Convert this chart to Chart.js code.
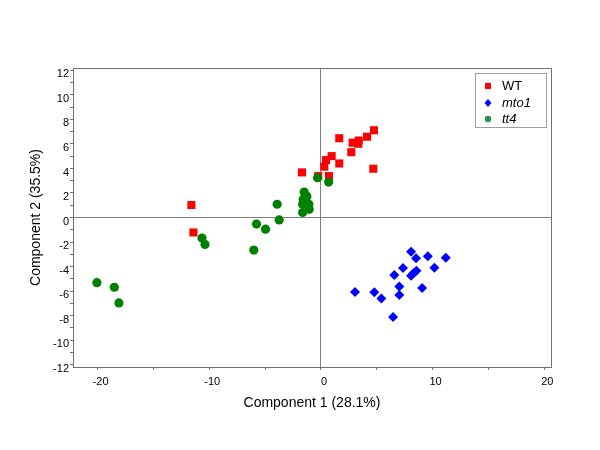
<!DOCTYPE html>
<html>
<head>
<meta charset="utf-8">
<script src="https://cdn.jsdelivr.net/npm/chart.js@4/dist/chart.umd.min.js"></script>
<style>
  html, body { margin: 0; padding: 0; background: #fff; }
  #wrap { width: 600px; height: 450px; position: relative; }
</style>
</head>
<body>
<div id="wrap"><canvas id="pca"></canvas></div>
<script>
// Scores (Component 1, Component 2)
const wtX = [4.75, 4.13, 3.38, 2.84, 3.35, 1.64, 2.72, 0.96, 0.45, 1.64, 0.30, 4.69, -1.70, -0.24, 0.72, -11.6, -11.42];
const wtY = [7.12, 6.59, 6.28, 6.10, 6.02, 6.47, 5.33, 5.01, 4.68, 4.41, 4.15, 3.98, 3.68, 3.38, 3.38, 1.02, -1.22];

const mto1X = [8.07, 8.52, 9.57, 11.18, 7.35, 10.16, 6.57, 8.55, 8.07, 8.28, 7.02, 9.06, 4.78, 7.02, 5.41, 6.46, 3.05];
const mto1Y = [-2.80, -3.33, -3.17, -3.28, -4.12, -4.10, -4.69, -4.34, -4.75, -4.55, -5.64, -5.75, -6.10, -6.32, -6.62, -8.11, -6.07];

const tt4X = [-0.30, 0.69, -1.50, -1.26, -1.59, -1.35, -1.64, -1.08, -1.05, -1.64, -3.92, -3.74, -5.77, -4.96, -6.01, -10.65, -10.38, -20.06, -18.50, -18.09];
const tt4Y = [3.25, 2.89, 2.08, 1.73, 1.49, 1.41, 1.08, 1.08, 0.67, 0.41, 1.08, -0.20, -0.54, -0.95, -2.66, -1.68, -2.20, -5.32, -5.69, -6.97];

const xTickValues = [-20, -15, -10, -5, 0, 5, 10, 15, 20];
const yTickValues = [-12, -11, -10, -9, -8, -7, -6, -5, -4, -3, -2, -1, 0, 1, 2, 3, 4, 5, 6, 7, 8, 9, 10, 11, 12];

const seriesNames = ['WT', 'mto1', 'tt4'];

function toPoints(xs, ys) {
    return xs.map((x, i) => ({ x: x, y: ys[i] }));
}

const FONT = "'Liberation Sans', Arial, sans-serif";

// cadre autour de la zone de tracé
const framePlugin = {
    id: 'frame',
    afterDatasetsDraw(chart) {
        const a = chart.chartArea;
        const ctx = chart.ctx;
        ctx.save();
        ctx.strokeStyle = '#707070';
        ctx.lineWidth = 1;
        ctx.strokeRect(Math.round(a.left) + 0.5, Math.round(a.top) + 0.5,
            Math.round(a.right - a.left), Math.round(a.bottom - a.top));
        ctx.restore();
    }
};

// légende encadrée, noms des mutants en italique
const legendPlugin = {
    id: 'boxLegend',
    afterDraw(chart) {
        const ctx = chart.ctx;
        ctx.save();
        ctx.strokeStyle = '#a0a0a0';
        ctx.lineWidth = 1;
        ctx.fillStyle = '#fff';
        ctx.fillRect(475.5, 73.5, 71, 54);
        ctx.strokeRect(475.5, 73.5, 71, 54);

        const rows = [86, 103, 119];
        const mx = 488;
        // WT
        ctx.fillStyle = '#ff0000';
        ctx.fillRect(mx - 3, rows[0] - 3, 6, 6);
        // mto1
        ctx.fillStyle = '#0000ff';
        ctx.beginPath();
        ctx.moveTo(mx, rows[1] - 4);
        ctx.lineTo(mx + 3.5, rows[1]);
        ctx.lineTo(mx, rows[1] + 4);
        ctx.lineTo(mx - 3.5, rows[1]);
        ctx.closePath();
        ctx.fill();
        // tt4
        ctx.fillStyle = '#2e8b57';
        ctx.beginPath();
        ctx.arc(mx, rows[2], 3.2, 0, Math.PI * 2);
        ctx.fill();

        ctx.fillStyle = '#000';
        ctx.textBaseline = 'middle';
        ctx.textAlign = 'left';
        ctx.font = '13px ' + FONT;
        ctx.fillText(seriesNames[0], 502, rows[0]);
        ctx.font = 'italic 13px ' + FONT;
        ctx.fillText(seriesNames[1], 502, rows[1]);
        ctx.fillText(seriesNames[2], 502, rows[2]);
        ctx.restore();
    }
};

const zeroGrid = ctx => (ctx.tick && ctx.tick.value === 0) ? '#808080' : 'rgba(0,0,0,0)';

new Chart(document.getElementById('pca'), {
    type: 'scatter',
    data: {
        datasets: [
            {
                label: seriesNames[0],
                data: toPoints(wtX, wtY),
                pointStyle: 'rect',
                pointRadius: 5.7,
                backgroundColor: '#ff0000',
                borderWidth: 0,
                order: 3
            },
            {
                label: seriesNames[1],
                data: toPoints(mto1X, mto1Y),
                pointStyle: 'rectRot',
                pointRadius: 5,
                backgroundColor: '#0000ff',
                borderWidth: 0,
                order: 2
            },
            {
                label: seriesNames[2],
                data: toPoints(tt4X, tt4Y),
                pointStyle: 'circle',
                pointRadius: 4.6,
                backgroundColor: '#008000',
                borderWidth: 0,
                order: 1
            }
        ]
    },
    options: {
        responsive: true,
        maintainAspectRatio: false,
        animation: false,
        events: [],
        layout: { padding: { top: 68, right: 49, bottom: 0, left: 0 } },
        plugins: {
            legend: { display: false },
            tooltip: { enabled: false }
        },
        scales: {
            x: {
                type: 'linear',
                min: -22.2,
                max: 20.6,
                afterBuildTicks: scale => { scale.ticks = xTickValues.map(v => ({ value: v })); },
                afterFit: scale => { scale.height = 83; },
                grid: { color: zeroGrid, tickColor: '#707070', tickLength: 3, lineWidth: 1 },
                border: { display: false },
                ticks: {
                    autoSkip: false,
                    maxRotation: 0,
                    padding: 5,
                    labelOffset: 3,
                    color: '#000',
                    font: { family: FONT, size: 11 },
                    callback: v => (v % 10 === 0 ? String(v) : '')
                },
                title: {
                    display: true,
                    text: 'Component 1 (28.1%)',
                    color: '#000',
                    font: { family: FONT, size: 14 },
                    padding: { top: 0, bottom: 38 }
                }
            },
            y: {
                type: 'linear',
                min: -12.2,
                max: 12.2,
                afterBuildTicks: scale => { scale.ticks = yTickValues.map(v => ({ value: v })); },
                afterFit: scale => { scale.width = 73; },
                grid: { color: zeroGrid, tickColor: '#707070', tickLength: 3, lineWidth: 1 },
                border: { display: false },
                ticks: {
                    autoSkip: false,
                    padding: 1,
                    labelOffset: 4,
                    color: '#000',
                    font: { family: FONT, size: 11 },
                    callback: v => (v % 2 === 0 ? String(v) : '')
                },
                title: {
                    display: true,
                    text: 'Component 2 (35.5%)',
                    color: '#000',
                    font: { family: FONT, size: 14 },
                    padding: { top: 28, bottom: 0 }
                }
            }
        }
    },
    plugins: [framePlugin, legendPlugin]
});
</script>
</body>
</html>
